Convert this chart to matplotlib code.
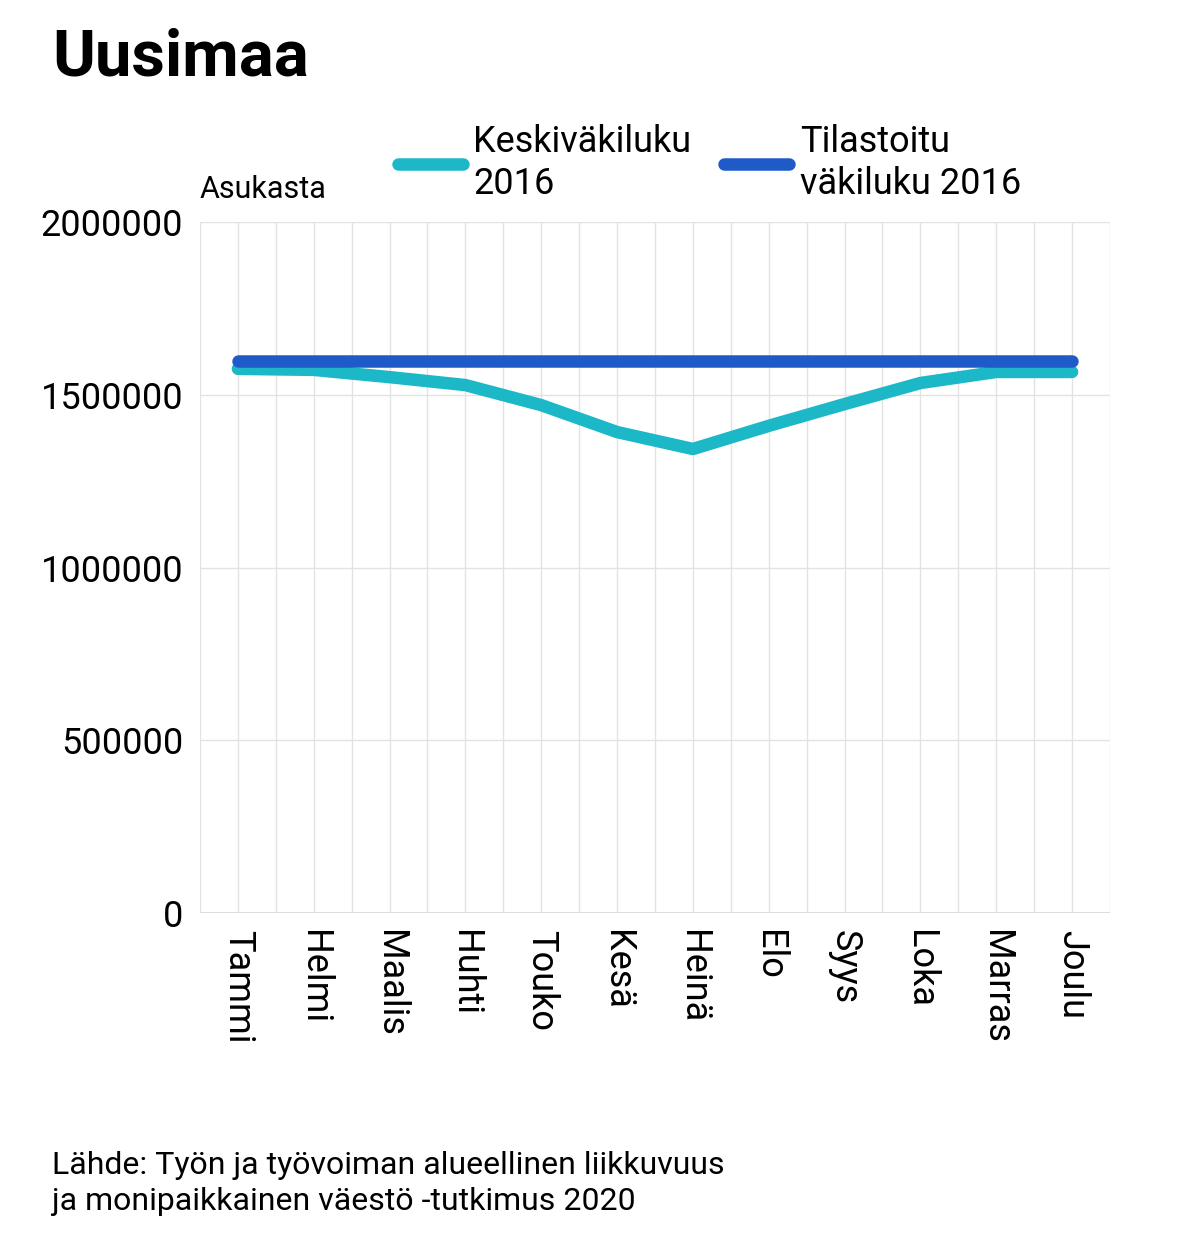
import matplotlib.pyplot as plt
from matplotlib.ticker import MultipleLocator, FuncFormatter

plt.rcParams["font.family"] = "Roboto"

kuukaudet = ["Tammi", "Helmi", "Maalis", "Huhti", "Touko", "Kesä",
             "Heinä", "Elo", "Syys", "Loka", "Marras", "Joulu"]
keskivakiluku = [1575000, 1572000, 1551000, 1528000, 1470000, 1392000,
                 1343000, 1410000, 1473000, 1534000, 1566000, 1566000]
tilastoitu = [1598000] * 12

fig = plt.figure(figsize=(11.99, 12.41), dpi=100)
ax = fig.add_axes([200 / 1199, 1 - 913 / 1241, 910 / 1199, 691 / 1241])

x = range(len(kuukaudet))
ax.plot(x, keskivakiluku, color="#1cb8c8", lw=9, solid_capstyle="round",
        label="Keskiväkiluku\n2016")
ax.plot(x, tilastoitu, color="#1e5ac8", lw=9, solid_capstyle="round",
        label="Tilastoitu\nväkiluku 2016")

ax.set_xlim(-0.5, 11.5)
ax.set_ylim(0, 2000000)
ax.set_xticks(list(x))
ax.set_xticklabels(kuukaudet, rotation=-90, fontsize=26)
ax.xaxis.set_minor_locator(MultipleLocator(0.5))
ax.yaxis.set_major_locator(MultipleLocator(500000))
ax.yaxis.set_major_formatter(FuncFormatter(lambda v, p: f"{int(v)}"))
ax.tick_params(axis="y", labelsize=26, length=0, pad=12)
ax.tick_params(axis="x", which="both", length=0, pad=12)
ax.grid(True, which="both", axis="x", color="#e3e3e3", lw=1)
ax.grid(True, axis="y", color="#e3e3e3", lw=1)
ax.set_axisbelow(True)
for s in ax.spines.values():
    s.set_visible(False)
ax.axhline(0, color="#dddddd", lw=1.5)

fig.text(52 / 1199, 1 - 75 / 1241, "Uusimaa", fontsize=47, fontweight="bold")
fig.text(200 / 1199, 1 - 198 / 1241, "Asukasta", fontsize=22)
fig.text(52 / 1199, 1 - 1210 / 1241,
         "Lähde: Työn ja työvoiman alueellinen liikkuvuus\nja monipaikkainen väestö -tutkimus 2020",
         fontsize=23, linespacing=1.3)

fig.legend(loc="center left", bbox_to_anchor=(365 / 1199, 1 - 163 / 1241), ncol=2,
           frameon=False, fontsize=26, handlelength=1.8, handletextpad=0.3,
           columnspacing=0.9)

fig.savefig("out.png", dpi=100)
